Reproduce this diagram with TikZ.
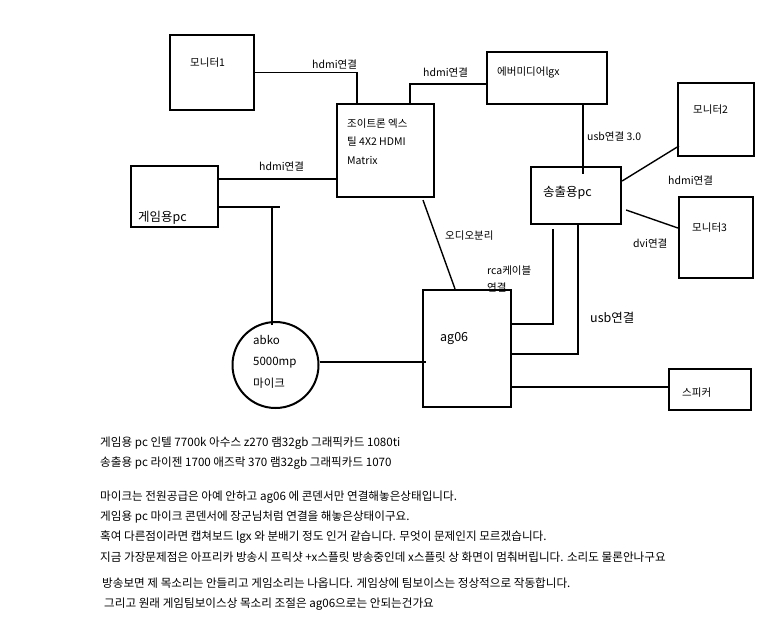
\documentclass[tikz,border=0pt]{standalone}
\usepackage{fontspec}
\setmainfont{Noto Sans CJK KR}
\begin{document}
\begin{tikzpicture}[x=1pt,y=-1pt,
  box/.style={draw, line width=2.2pt, inner sep=0pt},
  wire/.style={line width=1.8pt},
  thinwire/.style={line width=1.4pt},
  lbl/.style={anchor=west, inner sep=0pt, font=\fontsize{10.5pt}{12pt}\selectfont},
  big/.style={anchor=west, inner sep=0pt, font=\fontsize{12.5pt}{14pt}\selectfont},
  para/.style={anchor=west, inner sep=0pt, font=\fontsize{11.6pt}{12pt}\selectfont}]
\useasboundingbox[fill=white] (0,0) rectangle (774,630);
% boxes
\node[box, minimum width=84pt, minimum height=75pt] (mon1) at (212,72.5) {};
\node[box, minimum width=97pt, minimum height=93pt] (matrix) at (385.5,150.5) {};
\node[box, minimum width=120pt, minimum height=52pt] (lgx) at (547,78) {};
\node[box, minimum width=87pt, minimum height=61pt] (gamepc) at (174.5,196.5) {};
\node[box, minimum width=90pt, minimum height=57pt] (sendpc) at (576,195.5) {};
\node[box, minimum width=76pt, minimum height=73pt] (mon2) at (716,119.5) {};
\node[box, minimum width=74pt, minimum height=81pt] (mon3) at (716,237.5) {};
\node[box, minimum width=88pt, minimum height=117pt] (ag06) at (467,348.5) {};
\node[box, minimum width=82pt, minimum height=41pt] (spk) at (710,389.5) {};
\node[draw, circle, line width=2pt, minimum size=86pt, inner sep=0pt] (mic) at (275.5,365) {};
% texts in boxes
\node[lbl] (t1) at (190,63) {모니터1};
\node[lbl, align=left, font=\fontsize{10.5pt}{18.5pt}\selectfont] (t2) at (347,141.5) {조이트론 엑스\\틸 4X2 HDMI\\Matrix};
\node[lbl] (t3) at (497,72) {에버미디어lgx};
\node[big] (t4) at (138,218) {게임용pc};
\node[big] (t5) at (543,193) {송출용pc};
\node[lbl] (t6) at (693,110) {모니터2};
\node[lbl] (t7) at (692,228) {모니터3};
\node[big] (t8) at (440,339) {ag06};
\node[lbl] (t9) at (682,393) {스피커};
\node[anchor=west, inner sep=0pt, align=left, font=\fontsize{11.5pt}{21.5pt}\selectfont] (t10) at (253,361.5) {abko\\5000mp\\마이크};
% connectors
\draw[wire] (mon1.east) -| ([xshift=-28.5pt]matrix.north);
\draw[wire] ([xshift=24.5pt]matrix.north) |- ([yshift=-6pt]lgx.west);
\draw[wire] ([yshift=17.5pt]gamepc.east) coordinate (g1) -- (g1 -| matrix.west);
\draw[wire] ([yshift=-10.5pt]gamepc.east) coordinate (g2) -- ++(61,0);
\draw[wire] ([xshift=-3.5pt,yshift=-4pt]mic.north) coordinate (m1) -- (m1 |- g2);
\draw[wire] ([yshift=3pt]mic.east) coordinate (m2) -- ([xshift=4pt]m2 -| ag06.west);
\draw[thinwire] ([xshift=37.5pt,yshift=-2pt]matrix.south) -- ([xshift=-12pt]ag06.north);
\draw[thinwire] ([xshift=36pt]lgx.south) coordinate (l1) -- ([yshift=-8pt]l1 |- sendpc.north);
\draw[thinwire] ([yshift=14.5pt]sendpc.east) -- ([yshift=-26.5pt,xshift=2pt]mon2.west);
\draw[thinwire] ([yshift=-14.5pt,xshift=4pt]sendpc.east) -- ([yshift=9.5pt]mon3.west);
\draw[wire] ([xshift=-23pt,yshift=-4pt]sendpc.south) |- ([yshift=24.5pt]ag06.east);
\draw[wire] ([xshift=2pt]sendpc.south) |- ([yshift=-5.5pt]ag06.east);
\draw[wire] ([yshift=-38.5pt]ag06.east) -- ([yshift=2.5pt]spk.west);
% connector labels
\node[lbl] (c1) at (312,65) {hdmi연결};
\node[lbl] (c2) at (423,73) {hdmi연결};
\node[lbl] (c3) at (259,167) {hdmi연결};
\node[lbl] (c4) at (587,137) {usb연결 3.0};
\node[lbl] (c5) at (668,181) {hdmi연결};
\node[lbl] (c6) at (633,244) {dvi연결};
\node[lbl] (c7) at (445,236) {오디오분리};
\node[lbl] (c8) at (487,271) {rca케이블};
\node[lbl] (c9) at (487,288) {연결};
\node[big] (c10) at (590,318) {usb연결};
% paragraph
\node[para] (p1) at (100,443) {게임용 pc 인텔 7700k 아수스 z270 램32gb 그래픽카드 1080ti};
\node[para] (p2) at (100,463) {송출용 pc 라이젠 1700 애즈락 370 램32gb 그래픽카드 1070};
\node[para] (p3) at (100,497) {마이크는 전원공급은 아예 안하고 ag06 에 콘덴서만 연결해놓은상태입니다.};
\node[para] (p4) at (100,517) {게임용 pc 마이크 콘덴서에 장군님처럼 연결을 해놓은상태이구요.};
\node[para] (p5) at (100,537) {혹여 다른점이라면 캡쳐보드 lgx 와 분배기 정도 인거 같습니다. 무엇이 문제인지 모르겠습니다.};
\node[para] (p6) at (100,557) {지금 가장문제점은 아프리카 방송시 프릭샷 +x스플릿 방송중인데 x스플릿 상 화면이 멈춰버립니다. 소리도 물론안나구요};
\node[para] (p7) at (102,583) {방송보면 제 목소리는 안들리고 게임소리는 나옵니다. 게임상에 팀보이스는 정상적으로 작동합니다.};
\node[para] (p8) at (104,604) {그리고 원래 게임팀보이스상 목소리 조절은 ag06으로는 안되는건가요};
\end{tikzpicture}
\end{document}
